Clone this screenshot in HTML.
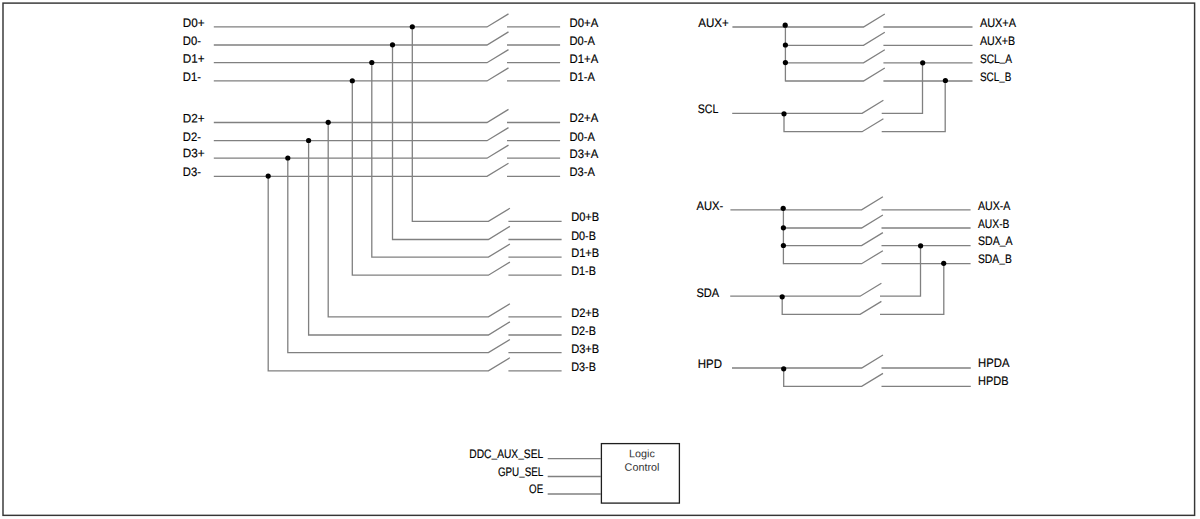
<!DOCTYPE html>
<html lang="en">
<head>
<meta charset="utf-8">
<title>Block Diagram</title>
<style>
html,body{margin:0;padding:0;background:#fff;}
body{width:1200px;height:519px;overflow:hidden;}
svg{display:block;}
svg text.n,svg tspan.n{stroke:none;}
svg text{font-family:"Liberation Sans",sans-serif;stroke:#000;stroke-width:0.18px;}
</style>
</head>
<body>
<svg width="1200" height="519" viewBox="0 0 1200 519">
<rect x="0" y="0" width="1200" height="519" fill="#fff"/>
<rect x="3.0" y="3.1" width="1191.6" height="512.25" fill="none" stroke="#363636" stroke-width="1.45"/>
<polyline points="213.8,26.95 487.0,26.95 508.5,13.85" fill="none" stroke="#808080" stroke-width="1.3" stroke-linejoin="miter"/>
<line x1="507.0" y1="26.95" x2="560.1" y2="26.95" stroke="#808080" stroke-width="1.3"/>
<polyline points="412.3,26.95 412.3,221.3 488.4,221.3 509.9,208.2" fill="none" stroke="#808080" stroke-width="1.3" stroke-linejoin="miter"/>
<line x1="508.4" y1="221.3" x2="561.6" y2="221.3" stroke="#808080" stroke-width="1.3"/>
<circle cx="412.3" cy="26.75" r="2.6" fill="#000"/>
<text x="182.8" y="27.0" font-size="12.3" fill="#000000" textLength="21.8" lengthAdjust="spacingAndGlyphs" transform="rotate(0.03 182.8 27.0)">D0+</text>
<text x="569.6" y="27.35" font-size="12.3" fill="#000000" textLength="28.6" lengthAdjust="spacingAndGlyphs" transform="rotate(0.03 569.6 27.35)">D0+A</text>
<text x="571.2" y="221.0" font-size="12.3" fill="#000000" textLength="28.0" lengthAdjust="spacingAndGlyphs" transform="rotate(0.03 571.2 221.0)">D0+B</text>
<polyline points="213.8,45.0 487.0,45.0 508.5,31.9" fill="none" stroke="#808080" stroke-width="1.3" stroke-linejoin="miter"/>
<line x1="507.0" y1="45.0" x2="560.1" y2="45.0" stroke="#808080" stroke-width="1.3"/>
<polyline points="392.5,45.0 392.5,239.5 488.4,239.5 509.9,226.4" fill="none" stroke="#808080" stroke-width="1.3" stroke-linejoin="miter"/>
<line x1="508.4" y1="239.5" x2="561.6" y2="239.5" stroke="#808080" stroke-width="1.3"/>
<circle cx="392.5" cy="44.8" r="2.6" fill="#000"/>
<text x="182.8" y="45.05" font-size="12.3" fill="#000000" textLength="18.1" lengthAdjust="spacingAndGlyphs" transform="rotate(0.03 182.8 45.05)">D0-</text>
<text x="569.6" y="45.4" font-size="12.3" fill="#000000" textLength="25.3" lengthAdjust="spacingAndGlyphs" transform="rotate(0.03 569.6 45.4)">D0-A</text>
<text x="571.2" y="239.7" font-size="12.3" fill="#000000" textLength="24.7" lengthAdjust="spacingAndGlyphs" transform="rotate(0.03 571.2 239.7)">D0-B</text>
<polyline points="213.8,62.7 487.0,62.7 508.5,49.6" fill="none" stroke="#808080" stroke-width="1.3" stroke-linejoin="miter"/>
<line x1="507.0" y1="62.7" x2="560.1" y2="62.7" stroke="#808080" stroke-width="1.3"/>
<polyline points="371.8,62.7 371.8,257.1 488.4,257.1 509.9,244.0" fill="none" stroke="#808080" stroke-width="1.3" stroke-linejoin="miter"/>
<line x1="508.4" y1="257.1" x2="561.6" y2="257.1" stroke="#808080" stroke-width="1.3"/>
<circle cx="371.8" cy="62.5" r="2.6" fill="#000"/>
<text x="182.8" y="62.75" font-size="12.3" fill="#000000" textLength="21.8" lengthAdjust="spacingAndGlyphs" transform="rotate(0.03 182.8 62.75)">D1+</text>
<text x="569.6" y="63.1" font-size="12.3" fill="#000000" textLength="28.6" lengthAdjust="spacingAndGlyphs" transform="rotate(0.03 569.6 63.1)">D1+A</text>
<text x="571.2" y="257.3" font-size="12.3" fill="#000000" textLength="28.0" lengthAdjust="spacingAndGlyphs" transform="rotate(0.03 571.2 257.3)">D1+B</text>
<polyline points="213.8,80.95 487.0,80.95 508.5,67.85" fill="none" stroke="#808080" stroke-width="1.3" stroke-linejoin="miter"/>
<line x1="507.0" y1="80.95" x2="560.1" y2="80.95" stroke="#808080" stroke-width="1.3"/>
<polyline points="352.3,80.95 352.3,275.2 488.4,275.2 509.9,262.1" fill="none" stroke="#808080" stroke-width="1.3" stroke-linejoin="miter"/>
<line x1="508.4" y1="275.2" x2="561.6" y2="275.2" stroke="#808080" stroke-width="1.3"/>
<circle cx="352.3" cy="80.75" r="2.6" fill="#000"/>
<text x="182.8" y="81.0" font-size="12.3" fill="#000000" textLength="18.1" lengthAdjust="spacingAndGlyphs" transform="rotate(0.03 182.8 81.0)">D1-</text>
<text x="569.6" y="81.35" font-size="12.3" fill="#000000" textLength="25.3" lengthAdjust="spacingAndGlyphs" transform="rotate(0.03 569.6 81.35)">D1-A</text>
<text x="571.2" y="275.4" font-size="12.3" fill="#000000" textLength="24.7" lengthAdjust="spacingAndGlyphs" transform="rotate(0.03 571.2 275.4)">D1-B</text>
<polyline points="213.8,122.5 487.0,122.5 508.5,109.4" fill="none" stroke="#808080" stroke-width="1.3" stroke-linejoin="miter"/>
<line x1="507.0" y1="122.5" x2="560.1" y2="122.5" stroke="#808080" stroke-width="1.3"/>
<polyline points="328.2,122.5 328.2,316.9 488.4,316.9 509.9,303.8" fill="none" stroke="#808080" stroke-width="1.3" stroke-linejoin="miter"/>
<line x1="508.4" y1="316.9" x2="561.6" y2="316.9" stroke="#808080" stroke-width="1.3"/>
<circle cx="328.2" cy="122.3" r="2.6" fill="#000"/>
<text x="182.8" y="122.55" font-size="12.3" fill="#000000" textLength="21.8" lengthAdjust="spacingAndGlyphs" transform="rotate(0.03 182.8 122.55)">D2+</text>
<text x="569.6" y="122.4" font-size="12.3" fill="#000000" textLength="28.6" lengthAdjust="spacingAndGlyphs" transform="rotate(0.03 569.6 122.4)">D2+A</text>
<text x="571.2" y="317.1" font-size="12.3" fill="#000000" textLength="28.0" lengthAdjust="spacingAndGlyphs" transform="rotate(0.03 571.2 317.1)">D2+B</text>
<polyline points="213.8,140.7 487.0,140.7 508.5,127.6" fill="none" stroke="#808080" stroke-width="1.3" stroke-linejoin="miter"/>
<line x1="507.0" y1="140.7" x2="560.1" y2="140.7" stroke="#808080" stroke-width="1.3"/>
<polyline points="308.6,140.7 308.6,335.0 488.4,335.0 509.9,321.9" fill="none" stroke="#808080" stroke-width="1.3" stroke-linejoin="miter"/>
<line x1="508.4" y1="335.0" x2="561.6" y2="335.0" stroke="#808080" stroke-width="1.3"/>
<circle cx="308.6" cy="140.5" r="2.6" fill="#000"/>
<text x="182.8" y="140.75" font-size="12.3" fill="#000000" textLength="18.1" lengthAdjust="spacingAndGlyphs" transform="rotate(0.03 182.8 140.75)">D2-</text>
<text x="569.6" y="140.6" font-size="12.3" fill="#000000" textLength="25.3" lengthAdjust="spacingAndGlyphs" transform="rotate(0.03 569.6 140.6)">D0-A</text>
<text x="571.2" y="335.2" font-size="12.3" fill="#000000" textLength="24.7" lengthAdjust="spacingAndGlyphs" transform="rotate(0.03 571.2 335.2)">D2-B</text>
<polyline points="213.8,158.2 487.0,158.2 508.5,145.1" fill="none" stroke="#808080" stroke-width="1.3" stroke-linejoin="miter"/>
<line x1="507.0" y1="158.2" x2="560.1" y2="158.2" stroke="#808080" stroke-width="1.3"/>
<polyline points="287.8,158.2 287.8,352.6 488.4,352.6 509.9,339.5" fill="none" stroke="#808080" stroke-width="1.3" stroke-linejoin="miter"/>
<line x1="508.4" y1="352.6" x2="561.6" y2="352.6" stroke="#808080" stroke-width="1.3"/>
<circle cx="287.8" cy="158.0" r="2.6" fill="#000"/>
<text x="182.8" y="157.3" font-size="12.3" fill="#000000" textLength="21.8" lengthAdjust="spacingAndGlyphs" transform="rotate(0.03 182.8 157.3)">D3+</text>
<text x="569.6" y="157.7" font-size="12.3" fill="#000000" textLength="28.6" lengthAdjust="spacingAndGlyphs" transform="rotate(0.03 569.6 157.7)">D3+A</text>
<text x="571.2" y="352.8" font-size="12.3" fill="#000000" textLength="28.0" lengthAdjust="spacingAndGlyphs" transform="rotate(0.03 571.2 352.8)">D3+B</text>
<polyline points="213.8,176.3 487.0,176.3 508.5,163.2" fill="none" stroke="#808080" stroke-width="1.3" stroke-linejoin="miter"/>
<line x1="507.0" y1="176.3" x2="560.1" y2="176.3" stroke="#808080" stroke-width="1.3"/>
<polyline points="268.2,176.3 268.2,370.8 488.4,370.8 509.9,357.7" fill="none" stroke="#808080" stroke-width="1.3" stroke-linejoin="miter"/>
<line x1="508.4" y1="370.8" x2="561.6" y2="370.8" stroke="#808080" stroke-width="1.3"/>
<circle cx="268.2" cy="176.1" r="2.6" fill="#000"/>
<text x="182.8" y="176.35" font-size="12.3" fill="#000000" textLength="18.1" lengthAdjust="spacingAndGlyphs" transform="rotate(0.03 182.8 176.35)">D3-</text>
<text x="569.6" y="176.2" font-size="12.3" fill="#000000" textLength="25.3" lengthAdjust="spacingAndGlyphs" transform="rotate(0.03 569.6 176.2)">D3-A</text>
<text x="571.2" y="371.0" font-size="12.3" fill="#000000" textLength="24.7" lengthAdjust="spacingAndGlyphs" transform="rotate(0.03 571.2 371.0)">D3-B</text>
<polyline points="732.4,27.0 863.5,27.0 884.8,14.0" fill="none" stroke="#808080" stroke-width="1.3" stroke-linejoin="miter"/>
<polyline points="785.4,45.3 863.5,45.3 884.8,32.3" fill="none" stroke="#808080" stroke-width="1.3" stroke-linejoin="miter"/>
<polyline points="785.4,62.8 863.5,62.8 884.8,49.8" fill="none" stroke="#808080" stroke-width="1.3" stroke-linejoin="miter"/>
<polyline points="785.4,81.0 863.5,81.0 884.8,68.0" fill="none" stroke="#808080" stroke-width="1.3" stroke-linejoin="miter"/>
<line x1="785.4" y1="27.0" x2="785.4" y2="81.5" stroke="#808080" stroke-width="1.3"/>
<line x1="883.4" y1="27.0" x2="972.5" y2="27.0" stroke="#808080" stroke-width="1.3"/>
<line x1="883.4" y1="45.3" x2="972.5" y2="45.3" stroke="#808080" stroke-width="1.3"/>
<line x1="883.4" y1="62.8" x2="972.5" y2="62.8" stroke="#808080" stroke-width="1.3"/>
<line x1="883.4" y1="81.0" x2="972.5" y2="81.0" stroke="#808080" stroke-width="1.3"/>
<circle cx="785.2" cy="25.2" r="2.6" fill="#000"/>
<circle cx="785.4" cy="45.0" r="2.6" fill="#000"/>
<circle cx="785.4" cy="62.6" r="2.6" fill="#000"/>
<text x="698.2" y="26.9" font-size="12.3" fill="#000000" textLength="30.5" lengthAdjust="spacingAndGlyphs" transform="rotate(0.03 698.2 26.9)">AUX+</text>
<text x="979.9" y="26.9" font-size="12.3" fill="#000000" textLength="36.1" lengthAdjust="spacingAndGlyphs" transform="rotate(0.03 979.9 26.9)">AUX+A</text>
<text x="979.9" y="45.0" font-size="12.3" fill="#000000" textLength="35.3" lengthAdjust="spacingAndGlyphs" transform="rotate(0.03 979.9 45.0)">AUX+B</text>
<text x="979.9" y="62.8" font-size="12.3" fill="#000000" textLength="32.1" lengthAdjust="spacingAndGlyphs" transform="rotate(0.03 979.9 62.8)">SCL<tspan dy="-1.4" class="n">_</tspan><tspan dy="1.4">A</tspan></text>
<text x="979.9" y="80.9" font-size="12.3" fill="#000000" textLength="31.4" lengthAdjust="spacingAndGlyphs" transform="rotate(0.03 979.9 80.9)">SCL<tspan dy="-1.4" class="n">_</tspan><tspan dy="1.4">B</tspan></text>
<polyline points="732.2,113.3 862.1,113.3 883.4,100.3" fill="none" stroke="#808080" stroke-width="1.3" stroke-linejoin="miter"/>
<polyline points="784.0,113.3 784.0,131.7 862.1,131.7 883.4,118.7" fill="none" stroke="#808080" stroke-width="1.3" stroke-linejoin="miter"/>
<polyline points="881.7,113.3 922.5,113.3 922.5,62.8" fill="none" stroke="#808080" stroke-width="1.3" stroke-linejoin="miter"/>
<polyline points="881.7,131.7 945.2,131.7 945.2,81.0" fill="none" stroke="#808080" stroke-width="1.3" stroke-linejoin="miter"/>
<circle cx="784.0" cy="113.8" r="2.6" fill="#000"/>
<circle cx="922.7" cy="62.8" r="2.6" fill="#000"/>
<circle cx="945.4" cy="80.5" r="2.6" fill="#000"/>
<text x="697.8" y="113.4" font-size="12.3" fill="#000000" textLength="20.5" lengthAdjust="spacingAndGlyphs" transform="rotate(0.03 697.8 113.4)">SCL</text>
<polyline points="730.4,209.8 861.6,209.8 882.9,196.8" fill="none" stroke="#808080" stroke-width="1.3" stroke-linejoin="miter"/>
<polyline points="783.4,228.0 861.6,228.0 882.9,215.0" fill="none" stroke="#808080" stroke-width="1.3" stroke-linejoin="miter"/>
<polyline points="783.4,245.6 861.6,245.6 882.9,232.6" fill="none" stroke="#808080" stroke-width="1.3" stroke-linejoin="miter"/>
<polyline points="783.4,263.7 861.6,263.7 882.9,250.7" fill="none" stroke="#808080" stroke-width="1.3" stroke-linejoin="miter"/>
<line x1="783.4" y1="209.8" x2="783.4" y2="264.2" stroke="#808080" stroke-width="1.3"/>
<line x1="881.5" y1="209.8" x2="970.6" y2="209.8" stroke="#808080" stroke-width="1.3"/>
<line x1="881.5" y1="228.0" x2="970.6" y2="228.0" stroke="#808080" stroke-width="1.3"/>
<line x1="881.5" y1="245.6" x2="970.6" y2="245.6" stroke="#808080" stroke-width="1.3"/>
<line x1="881.5" y1="263.7" x2="970.6" y2="263.7" stroke="#808080" stroke-width="1.3"/>
<circle cx="783.2" cy="208.3" r="2.6" fill="#000"/>
<circle cx="783.4" cy="227.8" r="2.6" fill="#000"/>
<circle cx="783.4" cy="245.5" r="2.6" fill="#000"/>
<text x="696.5" y="209.9" font-size="12.3" fill="#000000" textLength="26.7" lengthAdjust="spacingAndGlyphs" transform="rotate(0.03 696.5 209.9)">AUX-</text>
<text x="978.0" y="209.6" font-size="12.3" fill="#000000" textLength="32.4" lengthAdjust="spacingAndGlyphs" transform="rotate(0.03 978.0 209.6)">AUX-A</text>
<text x="978.0" y="227.7" font-size="12.3" fill="#000000" textLength="31.5" lengthAdjust="spacingAndGlyphs" transform="rotate(0.03 978.0 227.7)">AUX-B</text>
<text x="978.0" y="245.3" font-size="12.3" fill="#000000" textLength="34.6" lengthAdjust="spacingAndGlyphs" transform="rotate(0.03 978.0 245.3)">SDA<tspan dy="-1.4" class="n">_</tspan><tspan dy="1.4">A</tspan></text>
<text x="978.0" y="263.1" font-size="12.3" fill="#000000" textLength="33.8" lengthAdjust="spacingAndGlyphs" transform="rotate(0.03 978.0 263.1)">SDA<tspan dy="-1.4" class="n">_</tspan><tspan dy="1.4">B</tspan></text>
<polyline points="730.2,296.2 860.1,296.2 881.4,283.2" fill="none" stroke="#808080" stroke-width="1.3" stroke-linejoin="miter"/>
<polyline points="782.2,296.2 782.2,314.4 860.1,314.4 881.4,301.4" fill="none" stroke="#808080" stroke-width="1.3" stroke-linejoin="miter"/>
<polyline points="880.0,296.2 920.5,296.2 920.5,245.6" fill="none" stroke="#808080" stroke-width="1.3" stroke-linejoin="miter"/>
<polyline points="880.0,314.4 943.8,314.4 943.8,263.7" fill="none" stroke="#808080" stroke-width="1.3" stroke-linejoin="miter"/>
<circle cx="782.2" cy="296.8" r="2.6" fill="#000"/>
<circle cx="920.6" cy="245.8" r="2.6" fill="#000"/>
<circle cx="943.7" cy="263.3" r="2.6" fill="#000"/>
<text x="696.4" y="297.1" font-size="12.3" fill="#000000" textLength="22.7" lengthAdjust="spacingAndGlyphs" transform="rotate(0.03 696.4 297.1)">SDA</text>
<polyline points="732.0,368.0 861.7,368.0 883.0,355.0" fill="none" stroke="#808080" stroke-width="1.3" stroke-linejoin="miter"/>
<polyline points="783.7,368.0 783.7,386.4 861.7,386.4 883.0,373.4" fill="none" stroke="#808080" stroke-width="1.3" stroke-linejoin="miter"/>
<line x1="881.5" y1="368.0" x2="970.8" y2="368.0" stroke="#808080" stroke-width="1.3"/>
<line x1="881.5" y1="386.4" x2="970.8" y2="386.4" stroke="#808080" stroke-width="1.3"/>
<circle cx="783.7" cy="368.8" r="2.6" fill="#000"/>
<text x="697.8" y="367.8" font-size="12.3" fill="#000000" textLength="24.1" lengthAdjust="spacingAndGlyphs" transform="rotate(0.03 697.8 367.8)">HPD</text>
<text x="978.1" y="367.1" font-size="12.3" fill="#000000" textLength="31.3" lengthAdjust="spacingAndGlyphs" transform="rotate(0.03 978.1 367.1)">HPDA</text>
<text x="978.1" y="385.1" font-size="12.3" fill="#000000" textLength="30.5" lengthAdjust="spacingAndGlyphs" transform="rotate(0.03 978.1 385.1)">HPDB</text>
<rect x="601.4" y="443.6" width="78.0" height="59.5" fill="#fff" stroke="#1e1e1e" stroke-width="1.3"/>
<line x1="547.7" y1="458.6" x2="601.0" y2="458.6" stroke="#808080" stroke-width="1.3"/>
<line x1="547.7" y1="476.5" x2="601.0" y2="476.5" stroke="#808080" stroke-width="1.3"/>
<line x1="547.7" y1="494.0" x2="601.0" y2="494.0" stroke="#808080" stroke-width="1.3"/>
<text x="543.2" y="458.3" font-size="12.3" fill="#000000" text-anchor="end" textLength="73.9" lengthAdjust="spacingAndGlyphs" transform="rotate(0.03 543.2 458.3)">DDC<tspan dy="-1.4" class="n">_</tspan><tspan dy="1.4">AUX</tspan><tspan dy="-1.4" class="n">_</tspan><tspan dy="1.4">SEL</tspan></text>
<text x="543.2" y="476.2" font-size="12.3" fill="#000000" text-anchor="end" textLength="45.3" lengthAdjust="spacingAndGlyphs" transform="rotate(0.03 543.2 476.2)">GPU<tspan dy="-1.4" class="n">_</tspan><tspan dy="1.4">SEL</tspan></text>
<text x="543.2" y="493.3" font-size="12.3" fill="#000000" text-anchor="end" textLength="14.1" lengthAdjust="spacingAndGlyphs" transform="rotate(0.03 543.2 493.3)">OE</text>
<text x="642.0" y="457.2" font-size="10.8" fill="#333333" text-anchor="middle" class="n" transform="rotate(0.03 642.0 457.2)">Logic</text>
<text x="642.0" y="470.8" font-size="10.8" fill="#333333" text-anchor="middle" class="n" transform="rotate(0.03 642.0 470.8)">Control</text>
</svg>
</body>
</html>
